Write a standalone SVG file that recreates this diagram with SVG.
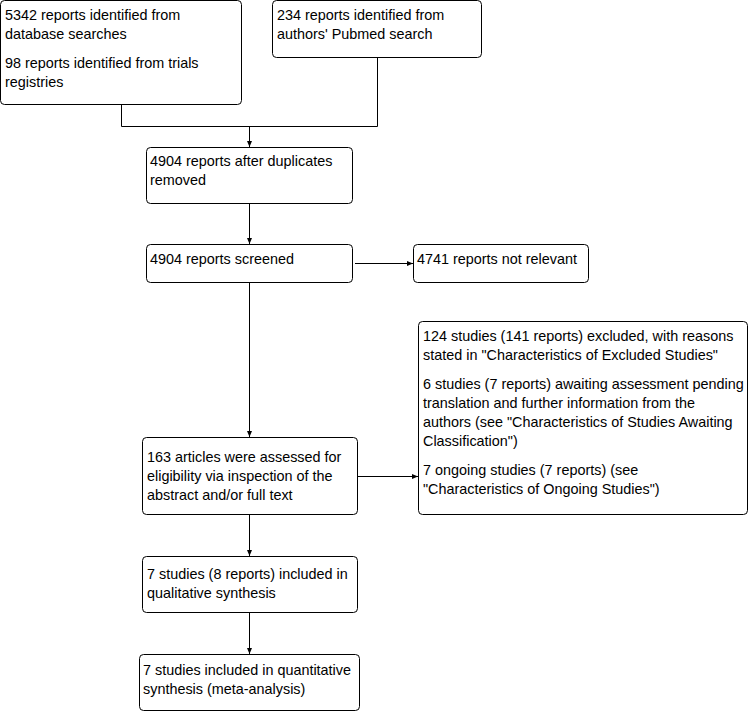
<svg xmlns="http://www.w3.org/2000/svg" width="748" height="711" viewBox="0 0 748 711">
<defs>
<marker id="arr" markerWidth="8" markerHeight="8" refX="7" refY="4" orient="auto" markerUnits="userSpaceOnUse">
<path d="M1,1.5 L7,4 L1,6.5 Z" fill="#000"/>
</marker>
<style>
.box{fill:#fff;stroke:#000;stroke-width:1}
.t{font-family:"Liberation Sans",Arial,sans-serif;font-size:14.4px;fill:#000}
.c{fill:none;stroke:#000;stroke-width:1}
</style>
</defs>
<rect width="748" height="711" fill="#fff"/>
<g id="connectors">
<polyline class="c" points="121.5,104 121.5,126.5 377.5,126.5 377.5,57"/>
<line class="c" x1="249.5" y1="126.5" x2="249.5" y2="147" marker-end="url(#arr)"/>
<line class="c" x1="249.5" y1="203" x2="249.5" y2="244" marker-end="url(#arr)"/>
<line class="c" x1="355" y1="263.5" x2="413" y2="263.5" marker-end="url(#arr)"/>
<line class="c" x1="249.5" y1="282" x2="249.5" y2="437" marker-end="url(#arr)"/>
<line class="c" x1="357" y1="476.5" x2="418" y2="476.5" marker-end="url(#arr)"/>
<line class="c" x1="249.5" y1="514" x2="249.5" y2="556" marker-end="url(#arr)"/>
<line class="c" x1="249.5" y1="612" x2="249.5" y2="654" marker-end="url(#arr)"/>
</g>
<g id="n1">
<rect class="box" x="0.5" y="0.5" width="241" height="104" rx="4"/>
<text class="t" x="5" y="20">5342 reports identified from</text>
<text class="t" x="5" y="39">database searches</text>
<text class="t" x="5" y="68">98 reports identified from trials</text>
<text class="t" x="5" y="87">registries</text>
</g>
<g id="n2">
<rect class="box" x="272.5" y="0.5" width="209" height="57" rx="4"/>
<text class="t" x="277" y="20">234 reports identified from</text>
<text class="t" x="277" y="39">authors' Pubmed search</text>
</g>
<g id="n3">
<rect class="box" x="146.5" y="147.5" width="206" height="56" rx="4"/>
<text class="t" x="150" y="166">4904 reports after duplicates</text>
<text class="t" x="150" y="185">removed</text>
</g>
<g id="n4">
<rect class="box" x="146.5" y="244.5" width="206" height="38" rx="4"/>
<text class="t" x="150" y="264">4904 reports screened</text>
</g>
<g id="n5">
<rect class="box" x="413.5" y="244.5" width="175" height="38" rx="4"/>
<text class="t" x="417" y="264">4741 reports not relevant</text>
</g>
<g id="n6">
<rect class="box" x="142.5" y="437.5" width="215" height="77" rx="4"/>
<text class="t" x="147" y="462">163 articles were assessed for</text>
<text class="t" x="147" y="481">eligibility via inspection of the</text>
<text class="t" x="147" y="500">abstract and/or full text</text>
</g>
<g id="n7">
<rect class="box" x="418.5" y="321.5" width="329" height="193" rx="4"/>
<text class="t" x="423" y="341">124 studies (141 reports) excluded, with reasons</text>
<text class="t" x="423" y="360">stated in "Characteristics of Excluded Studies"</text>
<text class="t" x="423" y="389">6 studies (7 reports) awaiting assessment pending</text>
<text class="t" x="423" y="408">translation and further information from the</text>
<text class="t" x="423" y="427">authors (see "Characteristics of Studies Awaiting</text>
<text class="t" x="423" y="446">Classification")</text>
<text class="t" x="423" y="475">7 ongoing studies (7 reports) (see</text>
<text class="t" x="423" y="494">"Characteristics of Ongoing Studies")</text>
</g>
<g id="n8">
<rect class="box" x="142.5" y="556.5" width="215" height="56" rx="4"/>
<text class="t" x="147" y="579">7 studies (8 reports) included in</text>
<text class="t" x="147" y="598">qualitative synthesis</text>
</g>
<g id="n9">
<rect class="box" x="139.5" y="654.5" width="220" height="56" rx="4"/>
<text class="t" x="143" y="675">7 studies included in quantitative</text>
<text class="t" x="143" y="694">synthesis (meta-analysis)</text>
</g>
</svg>
